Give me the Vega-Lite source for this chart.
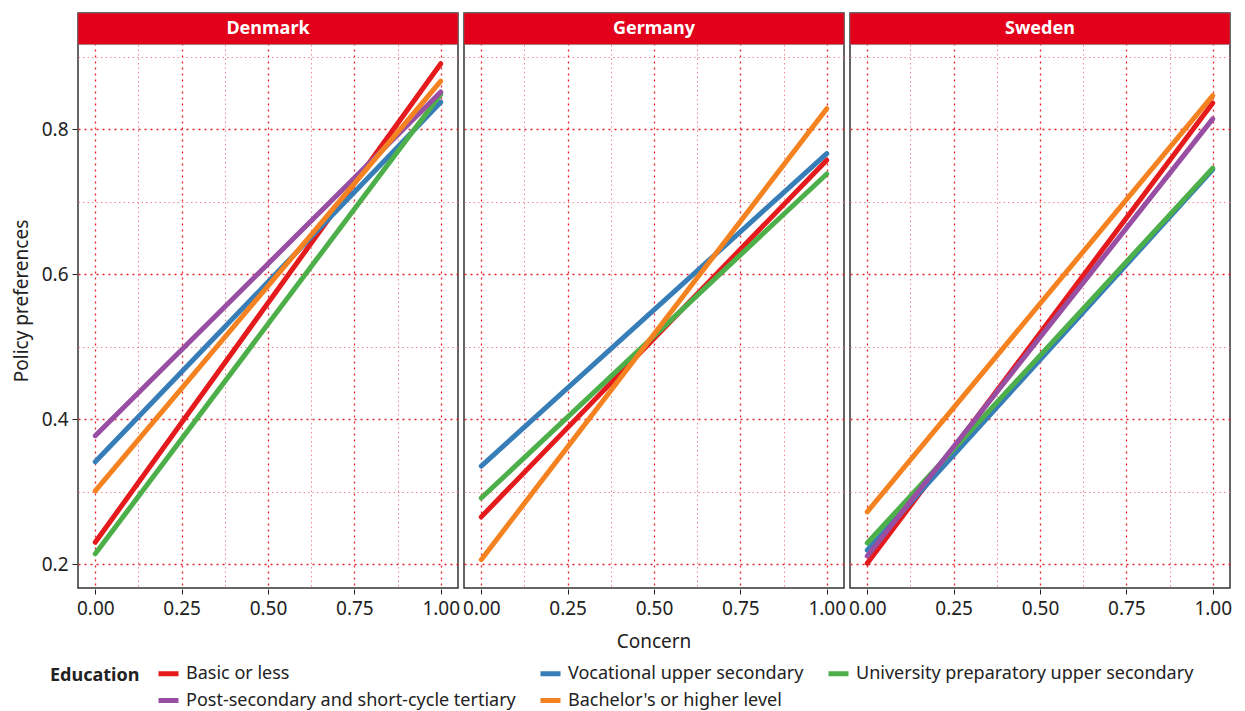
{
  "$schema": "https://vega.github.io/schema/vega-lite/v6.json",
  "padding": {"top": 12, "left": 12, "right": 8, "bottom": 2},
  "background": "white",
  "config": {
    "font": "Noto Sans",
    "view": {"stroke": "#333333", "strokeWidth": 1.5},
    "facet": {"spacing": 4},
    "legend": {"layout": {"bottom": {"anchor": "middle"}}}
  },
  "data": {"values": [
    {"country": "Denmark", "edu": "Basic or less", "concern": 0, "pref": 0.230},
    {"country": "Denmark", "edu": "Basic or less", "concern": 1, "pref": 0.890},
    {"country": "Denmark", "edu": "Vocational upper secondary", "concern": 0, "pref": 0.341},
    {"country": "Denmark", "edu": "Vocational upper secondary", "concern": 1, "pref": 0.837},
    {"country": "Denmark", "edu": "University preparatory upper secondary", "concern": 0, "pref": 0.214},
    {"country": "Denmark", "edu": "University preparatory upper secondary", "concern": 1, "pref": 0.848},
    {"country": "Denmark", "edu": "Post-secondary and short-cycle tertiary", "concern": 0, "pref": 0.377},
    {"country": "Denmark", "edu": "Post-secondary and short-cycle tertiary", "concern": 1, "pref": 0.851},
    {"country": "Denmark", "edu": "Bachelor's or higher level", "concern": 0, "pref": 0.301},
    {"country": "Denmark", "edu": "Bachelor's or higher level", "concern": 1, "pref": 0.866},
    {"country": "Germany", "edu": "Basic or less", "concern": 0, "pref": 0.265},
    {"country": "Germany", "edu": "Basic or less", "concern": 1, "pref": 0.757},
    {"country": "Germany", "edu": "Vocational upper secondary", "concern": 0, "pref": 0.335},
    {"country": "Germany", "edu": "Vocational upper secondary", "concern": 1, "pref": 0.766},
    {"country": "Germany", "edu": "University preparatory upper secondary", "concern": 0, "pref": 0.291},
    {"country": "Germany", "edu": "University preparatory upper secondary", "concern": 1, "pref": 0.738},
    {"country": "Germany", "edu": "Bachelor's or higher level", "concern": 0, "pref": 0.206},
    {"country": "Germany", "edu": "Bachelor's or higher level", "concern": 1, "pref": 0.828},
    {"country": "Sweden", "edu": "Basic or less", "concern": 0, "pref": 0.201},
    {"country": "Sweden", "edu": "Basic or less", "concern": 1, "pref": 0.836},
    {"country": "Sweden", "edu": "Vocational upper secondary", "concern": 0, "pref": 0.219},
    {"country": "Sweden", "edu": "Vocational upper secondary", "concern": 1, "pref": 0.744},
    {"country": "Sweden", "edu": "University preparatory upper secondary", "concern": 0, "pref": 0.229},
    {"country": "Sweden", "edu": "University preparatory upper secondary", "concern": 1, "pref": 0.746},
    {"country": "Sweden", "edu": "Post-secondary and short-cycle tertiary", "concern": 0, "pref": 0.211},
    {"country": "Sweden", "edu": "Post-secondary and short-cycle tertiary", "concern": 1, "pref": 0.814},
    {"country": "Sweden", "edu": "Bachelor's or higher level", "concern": 0, "pref": 0.272},
    {"country": "Sweden", "edu": "Bachelor's or higher level", "concern": 1, "pref": 0.846}
  ]},
  "facet": {"column": {"field": "country", "type": "nominal", "title": "Concern",
    "header": {"labels": false, "titleOrient": "bottom", "titleFontSize": 19, "titleFontWeight": "normal", "titleColor": "#222222", "titlePadding": 5}}},
  "spec": {
    "width": 380,
    "height": 575,
    "encoding": {
      "x": {
        "field": "concern", "type": "quantitative", "title": null,
        "scale": {"domain": [-0.05, 1.05], "nice": false, "zero": false},
        "axis": {
          "values": [0, 0.125, 0.25, 0.375, 0.5, 0.625, 0.75, 0.875, 1],
          "labelExpr": "round(datum.value*8)%2==0 ? format(datum.value, '.2f') : ''",
          "domain": false,
          "labelFontSize": 19, "labelColor": "#222222", "labelPadding": 5,
          "tickSize": 5,
          "tickColor": {"condition": {"test": "round(datum.value*8)%2==0", "value": "#222222"}, "value": "rgba(0,0,0,0)"},
          "gridColor": {"condition": {"test": "round(datum.value*8)%2==0", "value": "#e8202c"}, "value": "#f08a92"},
          "gridDash": {"condition": {"test": "round(datum.value*8)%2==0", "value": [2, 4]}, "value": [1.5, 3]},
          "gridWidth": {"condition": {"test": "round(datum.value*8)%2==0", "value": 1.3}, "value": 1},
          "gridOpacity": 1
        }
      },
      "y": {
        "field": "pref", "type": "quantitative", "title": "Policy preferences",
        "scale": {"domain": [0.1669, 0.96], "nice": false, "zero": false},
        "axis": {
          "values": [0.2, 0.3, 0.4, 0.5, 0.6, 0.7, 0.8, 0.9],
          "labelExpr": "round(datum.value*10)%2==0 ? format(datum.value, '.1f') : ''",
          "domain": false,
          "labelFontSize": 19, "labelColor": "#222222", "labelPadding": 4,
          "titleFontSize": 19, "titleFontWeight": "normal", "titleColor": "#222222", "titlePadding": 10,
          "tickSize": 5,
          "tickColor": {"condition": {"test": "round(datum.value*10)%2==0", "value": "#222222"}, "value": "rgba(0,0,0,0)"},
          "gridColor": {"condition": {"test": "round(datum.value*10)%2==0", "value": "#e8202c"}, "value": "#f08a92"},
          "gridDash": {"condition": {"test": "round(datum.value*10)%2==0", "value": [2, 4]}, "value": [1.5, 3]},
          "gridWidth": {"condition": {"test": "round(datum.value*10)%2==0", "value": 1.3}, "value": 1},
          "gridOpacity": 1
        }
      }
    },
    "layer": [
      {
        "mark": {"type": "line", "strokeWidth": 5, "strokeCap": "round"},
        "encoding": {
          "color": {
            "field": "edu", "type": "nominal", "title": "Education",
            "sort": ["Basic or less", "Vocational upper secondary", "University preparatory upper secondary", "Post-secondary and short-cycle tertiary", "Bachelor's or higher level"],
            "scale": {
              "domain": ["Basic or less", "Vocational upper secondary", "University preparatory upper secondary", "Post-secondary and short-cycle tertiary", "Bachelor's or higher level"],
              "range": ["#E41A1C", "#377EB8", "#4DAF4A", "#984EA3", "#F58220"]
            },
            "legend": {
              "orient": "bottom", "direction": "horizontal", "columns": 3,
              "titleOrient": "left", "titleAnchor": "start", "titleFontSize": 18, "titleFontWeight": "bold", "titleColor": "#222222",
              "titlePadding": 16, "titleBaseline": "line-top", "titleLineHeight": 29,
              "labelFontSize": 18, "labelColor": "#222222", "labelOffset": 5, "labelLimit": 0,
              "symbolType": "stroke", "symbolStrokeWidth": 5, "symbolSize": 400,
              "columnPadding": 14, "rowPadding": 4, "offset": 9
            }
          },
          "order": {"field": "concern"}
        }
      },
      {
        "transform": [{"filter": "datum.concern == 0 && datum.edu == 'Vocational upper secondary'"}],
        "mark": {"type": "rect", "color": "#E2001A", "stroke": "#777777", "strokeWidth": 0.5},
        "encoding": {
          "x": {"datum": -0.05, "type": "quantitative"},
          "x2": {"datum": 1.05},
          "y": {"datum": 0.9166, "type": "quantitative"},
          "y2": {"datum": 0.96}
        }
      },
      {
        "transform": [{"filter": "datum.concern == 0 && datum.edu == 'Vocational upper secondary'"}],
        "mark": {"type": "text", "color": "white", "fontWeight": "bold", "fontSize": 18, "baseline": "middle"},
        "encoding": {
          "x": {"datum": 0.5, "type": "quantitative"},
          "y": {"datum": 0.9383, "type": "quantitative"},
          "text": {"field": "country"}
        }
      }
    ]
  },
  "resolve": {"scale": {"x": "shared", "y": "shared"}}
}
